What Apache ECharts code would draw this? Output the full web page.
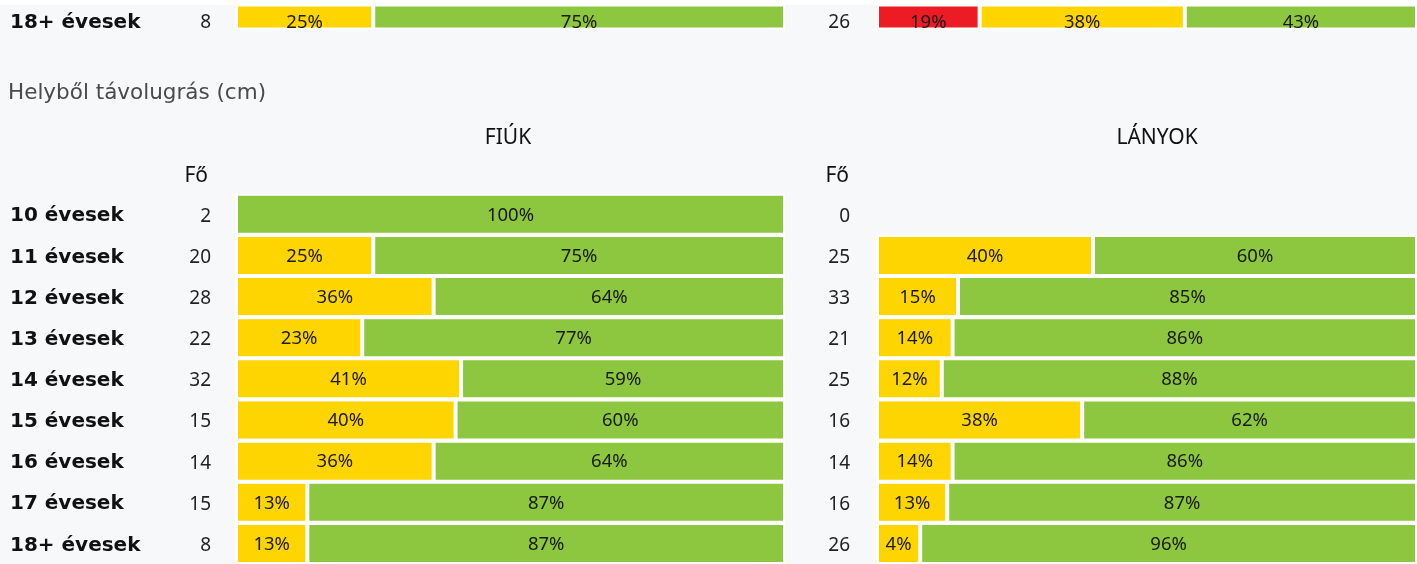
<!DOCTYPE html>
<html>
<head>
<meta charset="utf-8">
<script src="https://cdn.jsdelivr.net/npm/echarts@6/dist/echarts.min.js"></script>
<style>
  html, body { margin: 0; padding: 0; background: #f7f8fa; }
  #chart { width: 1417px; height: 564px; }
</style>
</head>
<body>
<div id="chart"></div>
<script>
// previous chart, last row only (cut at the top)
const prevAges = ['18+ évesek'];
const prevBoysCount = [8];
const prevGirlsCount = [26];
const prevBoysRed = [0];
const prevBoysYellow = [25];
const prevBoysGreen = [75];
const prevGirlsRed = [19];
const prevGirlsYellow = [38];
const prevGirlsGreen = [43];

// Helyből távolugrás (cm)
const ages = ['10 évesek', '11 évesek', '12 évesek', '13 évesek', '14 évesek', '15 évesek', '16 évesek', '17 évesek', '18+ évesek'];
const boysCount = [2, 20, 28, 22, 32, 15, 14, 15, 8];
const boysRed = [0, 0, 0, 0, 0, 0, 0, 0, 0];
const boysYellow = [0, 25, 36, 23, 41, 40, 36, 13, 13];
const boysGreen = [100, 75, 64, 77, 59, 60, 64, 87, 87];
const girlsCount = [0, 25, 33, 21, 25, 16, 14, 16, 26];
const girlsRed = ['-', 0, 0, 0, 0, 0, 0, 0, 0];
const girlsYellow = ['-', 40, 15, 14, 12, 38, 14, 13, 4];
const girlsGreen = ['-', 60, 85, 86, 88, 62, 86, 87, 96];

const RED = '#ed1c24';
const YELLOW = '#ffd500';
const GREEN = '#8dc63f';
const MIN_SHARE = 8; // small segments get a minimum width so their label fits

const chart = echarts.init(document.getElementById('chart'));

// widen tiny segments, take the room from the biggest one in the row
function layoutRows(red, yellow, green) {
  const rows = red.map((r, i) => [r, yellow[i], green[i]]);
  const out = [[], [], []];
  rows.forEach(row => {
    const shown = row.map(v => (typeof v === 'number' && v > 0 && v < MIN_SHARE ? MIN_SHARE : v));
    const extra = shown.reduce((s, v, k) => s + (typeof v === 'number' ? v - row[k] : 0), 0);
    if (extra > 0) {
      let big = 0;
      row.forEach((v, k) => { if (v > row[big]) big = k; });
      shown[big] -= extra;
    }
    row.forEach((v, k) => {
      out[k].push(v === '-' ? '-' : { value: shown[k], real: v });
    });
  });
  return out;
}

const grids = [
  { left: 236, top: 5, width: 549, height: 24 },
  { left: 877, top: 5, width: 549, height: 24 },
  { left: 236, top: 193.7, width: 549, height: 374.4 },
  { left: 877, top: 193.7, width: 549, height: 374.4 }
];

function pctLabel(dy) {
  return {
    show: true,
    position: 'inside',
    offset: [0, dy],
    color: '#1a1a1a',
    fontFamily: 'Noto Sans',
    fontSize: 18.5,
    formatter: p => (p.data.real > 0 ? p.data.real + '%' : '')
  };
}

function bars(gridIdx, red, yellow, green, barWidth, dy) {
  const data = layoutRows(red, yellow, green);
  const colors = [RED, YELLOW, GREEN];
  return data.map((d, k) => ({
    type: 'bar',
    stack: 'g' + gridIdx,
    xAxisIndex: gridIdx,
    yAxisIndex: gridIdx,
    barWidth: barWidth,
    silent: true,
    label: pctLabel(dy),
    itemStyle: { color: colors[k], borderColor: '#ffffff', borderWidth: 2 },
    data: d
  }));
}

// shift: how far below the row centre the text should sit
function countAxis(gridIdx, cats, counts, margin, shift) {
  return {
    type: 'category',
    gridIndex: gridIdx,
    position: 'left',
    data: cats,
    inverse: true,
    axisLine: { show: false },
    axisTick: { show: false },
    axisLabel: {
      interval: 0,
      margin: margin,
      color: '#222',
      fontFamily: 'Noto Sans',
      fontSize: 19,
      verticalAlign: 'top',
      lineHeight: shift * 2,
      formatter: (v, i) => String(counts[i])
    }
  };
}

function nameAxis(gridIdx, cats, shift) {
  return {
    type: 'category',
    gridIndex: gridIdx,
    position: 'left',
    data: cats,
    inverse: true,
    axisLine: { show: false },
    axisTick: { show: false },
    axisLabel: {
      interval: 0,
      margin: 226,
      align: 'left',
      color: '#111',
      fontFamily: 'DejaVu Sans',
      fontWeight: 'bold',
      fontSize: 20,
      verticalAlign: 'top',
      lineHeight: shift * 2
    }
  };
}

const option = {
  backgroundColor: '#f7f8fa',
  animation: false,
  grid: grids,
  xAxis: grids.map((g, i) => ({ type: 'value', gridIndex: i, min: 0, max: 100, show: false })),
  yAxis: [
    countAxis(0, prevAges, prevBoysCount, 25, 6),
    countAxis(1, prevAges, prevGirlsCount, 27, 6),
    countAxis(2, ages, boysCount, 25, 2),
    countAxis(3, ages, girlsCount, 27, 2),
    nameAxis(0, prevAges, 6),
    nameAxis(2, ages, 2)
  ],
  series: [
    ...bars(0, prevBoysRed, prevBoysYellow, prevBoysGreen, 25, 6),
    ...bars(1, prevGirlsRed, prevGirlsYellow, prevGirlsGreen, 25, 6),
    ...bars(2, boysRed, boysYellow, boysGreen, 41, 1),
    ...bars(3, girlsRed, girlsYellow, girlsGreen, 41, 1)
  ],
  graphic: [
    { type: 'rect', shape: { x: 0, y: 0, width: 1417, height: 5 }, style: { fill: '#ffffff' }, z: 100 },
    {
      type: 'text', x: 8, y: 93,
      style: { text: 'Helyből távolugrás (cm)', fill: '#4a4a4a', font: '21.5px "DejaVu Sans"', verticalAlign: 'middle' }
    },
    {
      type: 'text', x: 508, y: 138,
      style: { text: 'FIÚK', fill: '#111', font: '21px "Noto Sans"', align: 'center', verticalAlign: 'middle' }
    },
    {
      type: 'text', x: 1157, y: 138,
      style: { text: 'LÁNYOK', fill: '#111', font: '21px "Noto Sans"', align: 'center', verticalAlign: 'middle' }
    },
    {
      type: 'text', x: 208, y: 176,
      style: { text: 'Fő', fill: '#111', font: '21px "Noto Sans"', align: 'right', verticalAlign: 'middle' }
    },
    {
      type: 'text', x: 849, y: 176,
      style: { text: 'Fő', fill: '#111', font: '21px "Noto Sans"', align: 'right', verticalAlign: 'middle' }
    }
  ]
};

chart.setOption(option);
</script>
</body>
</html>
